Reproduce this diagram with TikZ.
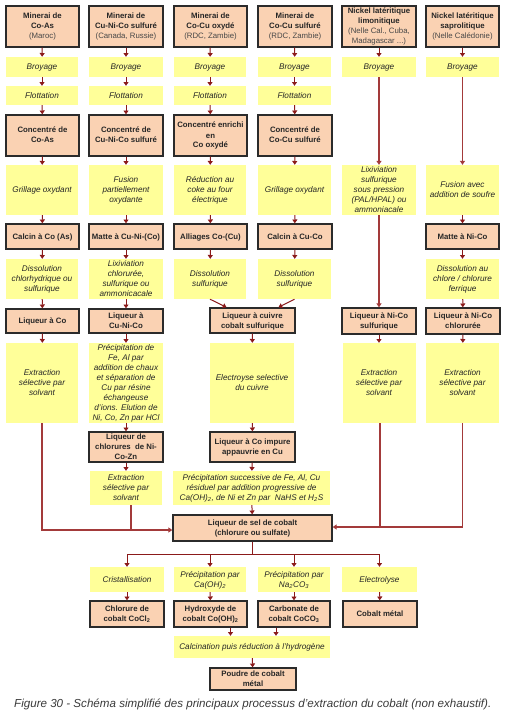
\documentclass[tikz,border=0pt]{standalone}
\usepackage{fontspec}
\setmainfont{Liberation Sans}
\usetikzlibrary{arrows.meta,calc}
\definecolor{peach}{HTML}{FAD2B3}
\definecolor{pyellow}{HTML}{FFFF99}
\definecolor{ared}{HTML}{8B1A1A}
\definecolor{lred}{HTML}{A33A3A}
\definecolor{bord}{HTML}{2B2B2B}
\definecolor{txt}{HTML}{262626}
\definecolor{capgray}{HTML}{3A3A3A}
\newcommand{\ct}[1]{\makebox[0pt]{\smash{\raisebox{-0.32em}{\begin{tabular}{@{}c@{}}#1\end{tabular}}}}}
\newcommand{\md}[1]{{\mdseries\color{txt!85}#1}}
\tikzset{
  sz/.style 2 args={minimum width=#1pt, minimum height=#2pt},
  obox/.style={draw=bord, line width=1.4pt, fill=peach, inner sep=0pt, text=txt,
    font=\bfseries\fontsize{7.8}{10}\selectfont},
  ybox/.style={fill=pyellow, inner sep=0pt, text=txt,
    font=\itshape\fontsize{8.2}{10}\selectfont},
  arr/.style={draw=ared, line width=1pt, -{Triangle[length=3.8pt,width=5pt]}},
  longarr/.style={draw=lred, line width=1.6pt, -{Triangle[length=4pt,width=5pt]}},
  lng/.style={draw=lred, line width=1.6pt},
  jline/.style={draw=ared, line width=1.2pt},
}
\begin{document}
\begin{tikzpicture}[x=1pt,y=-1pt]
\fill[white] (0,0) rectangle (529,718);
\useasboundingbox (0,0) rectangle (529,718);

% Row 1: ores
\node[obox,sz={73}{41}] (a1) at (42.5,26.5) {\ct{Minerai de\\Co-As\\\md{(Maroc)}}};
\node[obox,sz={74}{41}] (a2) at (126,26.5) {\ct{Minerai de\\Cu-Ni-Co sulfuré\\\md{(Canada, Russie)}}};
\node[obox,sz={73}{41}] (a3) at (210.5,26.5) {\ct{Minerai de\\Co-Cu oxydé\\\md{(RDC, Zambie)}}};
\node[obox,sz={74}{41}] (a4) at (295,26.5) {\ct{Minerai de\\Co-Cu sulfuré\\\md{(RDC, Zambie)}}};
\node[obox,sz={74}{41}] (a5) at (379,26.5) {\ct{Nickel latéritique\\limonitique\\\md{(Nelle Cal., Cuba,}\\\md{Madagascar ...)}}};
\node[obox,sz={73}{41}] (a6) at (462.5,26.5) {\ct{Nickel latéritique\\saprolitique\\\md{(Nelle Calédonie)}}};

% Row 2: Broyage
\node[ybox,sz={72}{20}] (b1) at (42,67) {\ct{Broyage}};
\node[ybox,sz={74}{20}] (b2) at (126,67) {\ct{Broyage}};
\node[ybox,sz={72}{20}] (b3) at (210,67) {\ct{Broyage}};
\node[ybox,sz={73}{20}] (b4) at (294.5,67) {\ct{Broyage}};
\node[ybox,sz={74}{20}] (b5) at (379,67) {\ct{Broyage}};
\node[ybox,sz={73}{20}] (b6) at (462.5,67) {\ct{Broyage}};

% Row 3: Flottation
\node[ybox,sz={72}{19}] (f1) at (42,95.5) {\ct{Flottation}};
\node[ybox,sz={74}{19}] (f2) at (126,95.5) {\ct{Flottation}};
\node[ybox,sz={72}{19}] (f3) at (210,95.5) {\ct{Flottation}};
\node[ybox,sz={73}{19}] (f4) at (294.5,95.5) {\ct{Flottation}};

% Row 4: concentrates
\node[obox,sz={73}{41}] (k1) at (42.5,135.5) {\ct{Concentré de\\Co-As}};
\node[obox,sz={74}{41}] (k2) at (126,135.5) {\ct{Concentré de\\Cu-Ni-Co sulfuré}};
\node[obox,sz={73}{41}] (k3) at (210.5,135.5) {\ct{Concentré enrichi\\en\\Co oxydé}};
\node[obox,sz={74}{41}] (k4) at (295,135.5) {\ct{Concentré de\\Co-Cu sulfuré}};

% Row 5
\node[ybox,sz={72}{50}] (y1) at (42,190) {\ct{Grillage oxydant}};
\node[ybox,sz={74}{50}] (y2) at (126,190) {\ct{Fusion\\partiellement\\oxydante}};
\node[ybox,sz={72}{50}] (y3) at (210,190) {\ct{Réduction au\\coke au four\\électrique}};
\node[ybox,sz={73}{50}] (y4) at (294.5,190) {\ct{Grillage oxydant}};
\node[ybox,sz={74}{50}] (y5) at (379,190) {\ct{Lixiviation\\sulfurique\\sous pression\\(PAL/HPAL) ou\\ammoniacale}};
\node[ybox,sz={73}{50}] (y6) at (462.5,190) {\ct{Fusion avec\\addition de soufre}};

% Row 6
\node[obox,sz={73}{25}] (o1) at (42.5,236.5) {\ct{Calcin à Co (As)}};
\node[obox,sz={74}{25}] (o2) at (126,236.5) {\ct{Matte à Cu-Ni-(Co)}};
\node[obox,sz={73}{25}] (o3) at (210.5,236.5) {\ct{Alliages Co-(Cu)}};
\node[obox,sz={74}{25}] (o4) at (295,236.5) {\ct{Calcin à Cu-Co}};
\node[obox,sz={73}{25}] (o6) at (462.5,236.5) {\ct{Matte à Ni-Co}};

% Row 7
\node[ybox,sz={72}{40}] (d1) at (42,279) {\ct{Dissolution\\chlorhydrique ou\\sulfurique}};
\node[ybox,sz={74}{40}] (d2) at (126,279) {\ct{Lixiviation\\chlorurée,\\sulfurique ou\\ammonicacale}};
\node[ybox,sz={72}{40}] (d3) at (210,279) {\ct{Dissolution\\sulfurique}};
\node[ybox,sz={73}{40}] (d4) at (294.5,279) {\ct{Dissolution\\sulfurique}};
\node[ybox,sz={73}{40}] (d6) at (462.5,279) {\ct{Dissolution au\\chlore / chlorure\\ferrique}};

% Row 8: liquors
\node[obox,sz={73}{24}] (l1) at (42.5,321) {\ct{Liqueur à Co}};
\node[obox,sz={74}{24}] (l2) at (126,321) {\ct{Liqueur à\\Cu-Ni-Co}};
\node[obox,sz={85}{25}] (l34) at (252.5,320.5) {\ct{Liqueur à cuivre\\cobalt sulfurique}};
\node[obox,sz={74}{26}] (l5) at (379,321) {\ct{Liqueur à Ni-Co\\sulfurique}};
\node[obox,sz={74}{26}] (l6) at (463,321) {\ct{Liqueur à Ni-Co\\chlorurée}};

% Row 9
\node[ybox,sz={72}{80}] (e1) at (42,383) {\ct{Extraction\\sélective par\\solvant}};
\node[ybox,sz={74}{80}] (p2) at (126,383) {\ct{Précipitation de\\Fe, Al par\\addition de chaux\\et séparation de\\Cu par résine\\échangeuse\\d'ions. Elution de\\Ni, Co, Zn par HCl}};
\node[ybox,sz={84}{80}] (el) at (252,383) {\ct{Electroyse selective\\du cuivre}};
\node[ybox,sz={73}{80}] (e5) at (379,383) {\ct{Extraction\\sélective par\\solvant}};
\node[ybox,sz={73}{80}] (e6) at (462.5,383) {\ct{Extraction\\sélective par\\solvant}};

% Row 10
\node[obox,sz={74}{30}] (q2) at (126,447) {\ct{Liqueur de\\chlorures~ de Ni-\\Co-Zn}};
\node[obox,sz={85}{30}] (ci) at (252.5,447) {\ct{Liqueur à Co impure\\appauvrie en Cu}};

% Row 11
\node[ybox,sz={72}{34}] (x2) at (126,488) {\ct{Extraction\\sélective par\\solvant}};
\node[ybox,sz={157}{34}] (ps) at (251.5,488) {\ct{Précipitation successive de Fe, Al, Cu\\résiduel par addition progressive de\\Ca(OH)\textsubscript{2}, de Ni et Zn par~ NaHS et H\textsubscript{2}S}};

% Cobalt salt liquor
\node[obox,sz={159}{26}] (sel) at (252.5,528) {\ct{Liqueur de sel de cobalt\\(chlorure ou sulfate)}};

% Bottom rows
\node[ybox,sz={74}{25}] (g1) at (127,579.5) {\ct{Cristallisation}};
\node[ybox,sz={72}{25}] (g2) at (210,579.5) {\ct{Précipitation par\\Ca(OH)\textsubscript{2}}};
\node[ybox,sz={72}{25}] (g3) at (294,579.5) {\ct{Précipitation par\\Na\textsubscript{2}CO\textsubscript{3}}};
\node[ybox,sz={75}{25}] (g4) at (379.5,579.5) {\ct{Electrolyse}};

\node[obox,sz={74}{26}] (h1) at (127,614) {\ct{Chlorure de\\cobalt CoCl\textsubscript{2}}};
\node[obox,sz={73}{26}] (h2) at (210.5,614) {\ct{Hydroxyde de\\cobalt Co(OH)\textsubscript{2}}};
\node[obox,sz={72}{26}] (h3) at (294,614) {\ct{Carbonate de\\cobalt CoCO\textsubscript{3}}};
\node[obox,sz={74}{26}] (h4) at (380,614) {\ct{Cobalt métal}};

\node[ybox,sz={156}{22}] (calc) at (252,647) {\ct{Calcination puis réduction à l'hydrogène}};
\node[obox,sz={86}{22}] (pou) at (253,679) {\ct{Poudre de cobalt\\métal}};

\node[anchor=west, inner sep=0pt, text=capgray, font=\itshape\fontsize{11.6}{13}\selectfont] (cap) at (14,704)
  {Figure 30 - Schéma simplifié des principaux processus d'extraction du cobalt (non exhaustif).};

% ---- connectors ----
\foreach \c in {1,2,3,4}{
  \draw[arr] (a\c) -- (b\c);
  \draw[arr] (b\c) -- (f\c);
  \draw[arr] (f\c) -- (k\c);
  \draw[arr] (k\c) -- (y\c);
  \draw[arr] (y\c) -- (o\c);
  \draw[arr] (o\c) -- (d\c);
}
\draw[arr] (a5) -- (b5);
\draw[arr] (a6) -- (b6);
\draw[longarr] (b5) -- (y5);
\draw[longarr] (b6) -- (y6);
\draw[longarr] (y5) -- (l5);
\draw[arr] (y6) -- (o6);
\draw[arr] (o6) -- (d6);
\draw[arr] (d6) -- (l6);
\draw[arr] (l5) -- (e5);
\draw[arr] (l6) -- (e6);

\draw[arr] (d1) -- (l1);
\draw[arr] (d2) -- (l2);
\draw[arr] (l1) -- (e1);
\draw[arr] (l2) -- (p2);
\draw[arr] (p2) -- (q2);
\draw[arr] (q2) -- (x2);

\draw[arr] (d3.south) -- ([xshift=-26pt]l34.north);
\draw[arr] (d4.south) -- ([xshift=26pt]l34.north);
\draw[arr] (l34) -- (el);
\draw[arr] (el) -- (ci);
\draw[arr] (ci) -- (ps);
\draw[arr] (ps) -- (sel);

% merging lines into the cobalt salt liquor
\draw[longarr] (e1.south) |- ([yshift=-2pt]sel.west);
\draw[lng] ([xshift=5pt]x2.south) -- ([xshift=5pt,yshift=-2pt]x2.south |- sel.west);
\draw[longarr] (e6.south) |- ([yshift=1pt]sel.east);
\draw[lng] ([xshift=1pt]e5.south) -- ([xshift=1pt,yshift=1pt]e5.south |- sel.east);

% distribution to final products
\coordinate (jn) at ($(sel.south)+(0,13)$);
\draw[jline] (sel.south) -- (jn);
\draw[jline] (g1.north |- jn) -- (g4.north |- jn);
\foreach \c in {1,2,3,4}{
  \draw[arr] (g\c.north |- jn) -- (g\c.north);
  \draw[arr] (g\c) -- (h\c);
}
\draw[arr] ([xshift=20pt]h2.south) -- ([xshift=20pt]h2.south |- calc.north);
\draw[arr] ([xshift=-18pt]h3.south) -- ([xshift=-18pt]h3.south |- calc.north);
\draw[arr] (calc) -- (pou);
\end{tikzpicture}
\end{document}
